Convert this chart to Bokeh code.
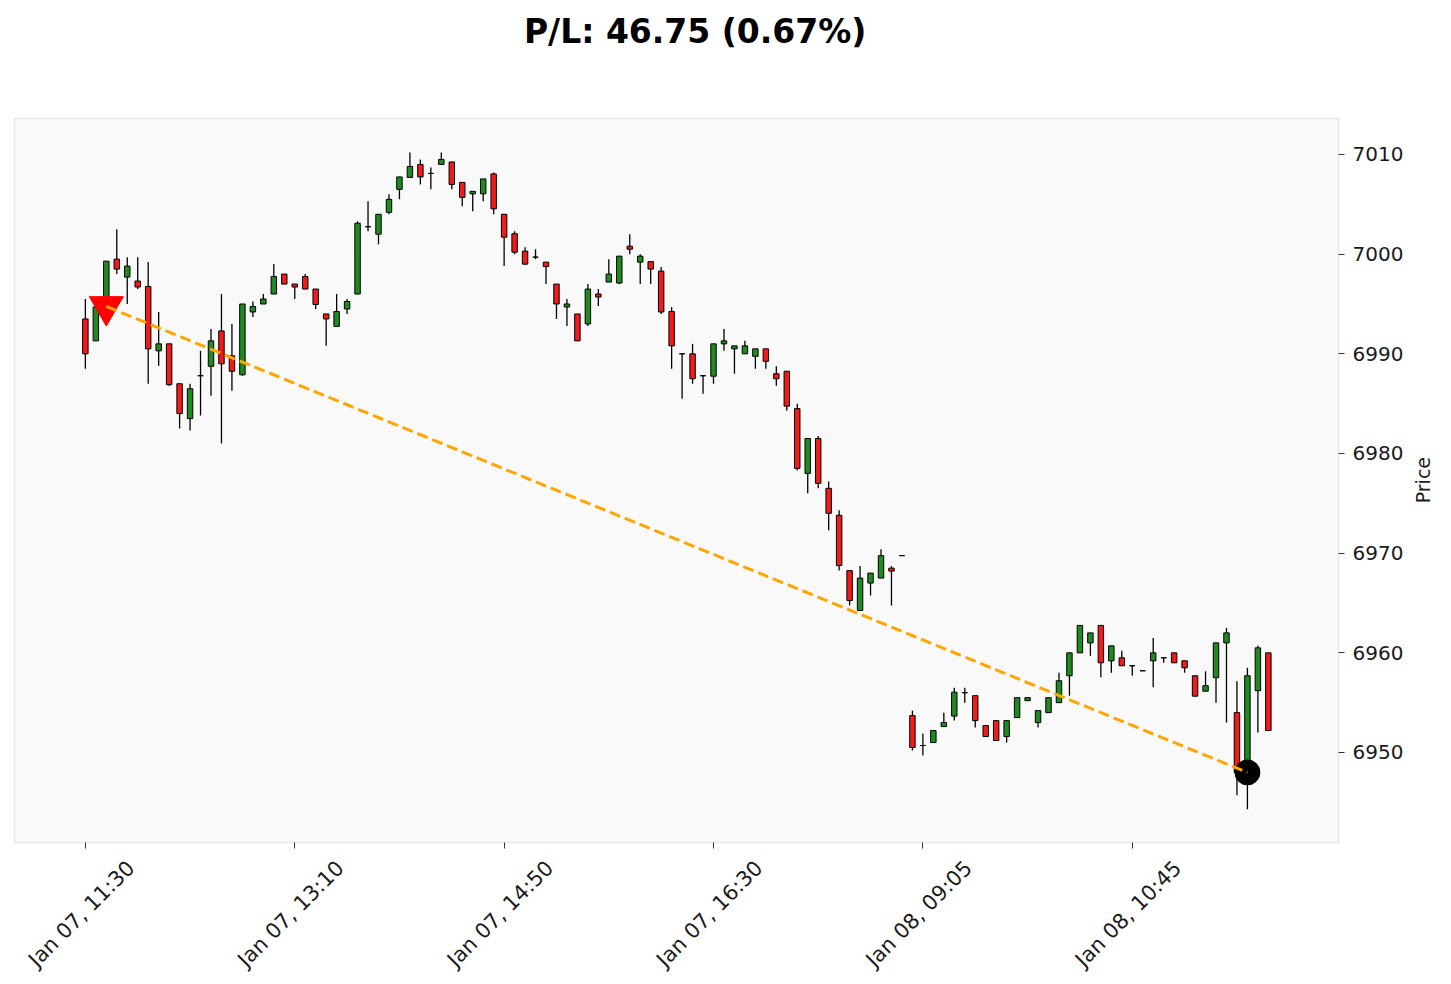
from math import pi
from bokeh.plotting import figure
from bokeh.models import ColumnDataSource, Range1d, LinearAxis, FixedTicker
from bokeh.embed import file_html
from bokeh.resources import INLINE

# ---------------- data ----------------
opens = [6993.5, 6991.3, 6994.7, 6999.5, 6997.7, 6997.3, 6996.75, 6990.3, 6991.0, 6987.0,
         6983.5, 6987.8, 6988.75, 6992.3, 6989.8, 6987.9, 6994.2, 6995.0, 6996.0, 6998.0,
         6997.0, 6997.75, 6996.5, 6994.0, 6992.75, 6994.5, 6996.0, 7002.75, 7002.0, 7004.2,
         7006.5, 7007.7, 7009.0, 7008.1, 7009.0, 7009.25, 7007.2, 7006.05, 7006.05, 7008.05,
         7004.0, 7002.05, 7000.3, 6999.7, 6999.2, 6997.0, 6994.7, 6994.0, 6993.0, 6996.0,
         6997.2, 6997.1, 7000.8, 6999.2, 6999.25, 6998.3, 6994.25, 6990.0, 6990.0, 6987.8,
         6987.75, 6991.0, 6990.5, 6990.0, 6989.75, 6990.5, 6988.0, 6988.25, 6984.5, 6978.0,
         6981.5, 6976.5, 6973.8, 6968.25, 6964.25, 6967.0, 6967.5, 6968.5, 6969.75, 6953.7,
         6950.7, 6951.0, 6952.6, 6953.65, 6956.0, 6955.7, 6952.7, 6953.2, 6951.6, 6953.5,
         6955.2, 6953.0, 6954.0, 6955.0, 6957.7, 6960.0, 6961.0, 6962.75, 6959.2, 6959.5,
         6958.7, 6958.2, 6959.2, 6959.5, 6960.0, 6959.2, 6957.7, 6956.15, 6957.5, 6961.0,
         6954.0, 6948.5, 6956.2, 6960.0]
highs = [6995.5, 6995.5, 6999.3, 7002.5, 6999.7, 6999.7, 6999.2, 6994.2, 6991.0, 6987.0,
         6987.0, 6990.3, 6992.5, 6996.0, 6993.0, 6995.0, 6995.25, 6996.0, 6999.0, 6998.0,
         6997.0, 6998.0, 6996.5, 6994.0, 6996.0, 6995.5, 7003.3, 7005.3, 7004.0, 7006.0,
         7007.75, 7010.2, 7009.5, 7008.7, 7010.2, 7009.25, 7007.2, 7006.3, 7007.55, 7008.2,
         7004.0, 7002.3, 7000.7, 7000.5, 6999.2, 6997.0, 6995.5, 6994.0, 6997.0, 6996.5,
         6999.5, 6999.8, 7002.0, 7000.0, 6999.25, 6998.7, 6994.7, 6990.0, 6991.0, 6987.8,
         6991.0, 6992.5, 6990.8, 6991.3, 6990.5, 6990.5, 6988.75, 6988.25, 6985.0, 6981.5,
         6981.75, 6977.2, 6974.3, 6968.25, 6968.7, 6968.0, 6970.4, 6968.7, 6969.75, 6954.2,
         6951.9, 6952.2, 6954.0, 6956.5, 6956.5, 6955.7, 6952.7, 6953.2, 6953.2, 6955.5,
         6955.5, 6954.2, 6955.5, 6958.0, 6960.0, 6962.75, 6962.0, 6962.75, 6960.7, 6960.2,
         6958.7, 6958.2, 6961.5, 6959.5, 6960.0, 6959.2, 6957.7, 6958.15, 6961.0, 6962.5,
         6957.15, 6958.5, 6960.7, 6960.0]
lows = [6988.5, 6991.3, 6994.5, 6998.0, 6995.0, 6996.5, 6987.0, 6988.8, 6986.8, 6982.5,
        6982.3, 6983.8, 6985.8, 6981.0, 6986.3, 6987.8, 6993.7, 6995.0, 6996.0, 6997.0,
        6995.5, 6996.5, 6994.5, 6990.8, 6992.75, 6994.0, 6996.0, 7002.3, 7001.0, 7004.0,
        7005.5, 7007.7, 7007.0, 7006.5, 7009.0, 7006.5, 7004.8, 7004.3, 7005.3, 7004.0,
        6998.8, 7000.0, 6998.9, 6999.5, 6997.0, 6993.5, 6992.8, 6991.3, 6992.8, 6994.8,
        6997.2, 6997.0, 7000.0, 6997.0, 6997.0, 6994.0, 6988.5, 6985.5, 6987.0, 6986.0,
        6987.0, 6990.3, 6988.0, 6990.0, 6988.5, 6988.5, 6986.8, 6984.3, 6978.3, 6976.0,
        6976.5, 6972.3, 6968.25, 6964.75, 6964.25, 6965.75, 6967.5, 6964.75, 6969.75, 6950.2,
        6949.7, 6951.0, 6952.6, 6953.2, 6955.0, 6952.5, 6951.6, 6951.2, 6951.0, 6953.5,
        6955.2, 6952.5, 6954.0, 6955.0, 6955.7, 6960.0, 6959.7, 6957.55, 6958.0, 6958.7,
        6957.7, 6958.2, 6956.55, 6959.0, 6959.0, 6958.0, 6955.65, 6956.15, 6955.0, 6953.0,
        6945.7, 6944.3, 6952.0, 6952.2]
closes = [6990.0, 6994.7, 6999.3, 6998.5, 6998.8, 6996.7, 6990.5, 6991.0, 6986.9, 6984.0,
          6986.5, 6987.8, 6991.3, 6989.0, 6988.25, 6995.0, 6994.75, 6995.5, 6997.75, 6997.0,
          6996.7, 6996.5, 6994.95, 6993.5, 6994.25, 6995.25, 7003.1, 7002.75, 7004.0, 7005.5,
          7007.75, 7008.8, 7007.75, 7008.1, 7009.5, 7007.0, 7005.7, 7006.3, 7007.55, 7004.55,
          7001.7, 7000.2, 6999.0, 6999.7, 6998.75, 6995.0, 6995.0, 6991.3, 6996.5, 6995.7,
          6998.0, 6999.8, 7000.5, 6999.8, 6998.5, 6994.2, 6990.8, 6990.0, 6987.5, 6987.8,
          6991.0, 6991.3, 6990.8, 6990.8, 6990.5, 6989.25, 6987.5, 6984.75, 6978.5, 6981.5,
          6977.0, 6974.0, 6968.75, 6965.25, 6967.5, 6968.0, 6969.75, 6968.2, 6969.75, 6950.5,
          6950.7, 6952.2, 6953.0, 6956.05, 6956.0, 6953.2, 6951.6, 6951.2, 6953.2, 6955.5,
          6955.5, 6954.2, 6955.5, 6957.2, 6960.0, 6962.75, 6962.0, 6959.0, 6960.7, 6958.7,
          6958.7, 6958.2, 6960.0, 6959.5, 6959.0, 6958.5, 6955.65, 6956.7, 6961.0, 6962.0,
          6948.0, 6957.7, 6960.5, 6952.2]

tick_positions = [0, 20, 40, 60, 80, 100]
tick_labels = ["Jan 07, 11:30", "Jan 07, 13:10", "Jan 07, 14:50",
               "Jan 07, 16:30", "Jan 08, 09:05", "Jan 08, 10:45"]
price_ticks = [6950, 6960, 6970, 6980, 6990, 7000, 7010]
y_axis_title = "Price"

entry_index = 2
entry_price = 6994.75
exit_index = 111
exit_price = 6948.0

# ---------------- derived ----------------
pnl = entry_price - exit_price          # short trade
pnl_pct = pnl / entry_price * 100
title_text = f"P/L: {pnl:.2f} ({pnl_pct:.2f}%)"

xs = list(range(len(opens)))
tops = [max(o, c) for o, c in zip(opens, closes)]
bottoms = [min(o, c) for o, c in zip(opens, closes)]
colors = ["#1f8a1f" if c >= o else "#f21b1b" for o, c in zip(opens, closes)]
src = ColumnDataSource(dict(x=xs, top=tops, bottom=bottoms, high=highs, low=lows, color=colors))

X0, X1 = -6.77, 119.7
Y0, Y1 = 6940.97, 7013.61
LABEL_SHIFT = 4.35
TITLE_SHIFT = 58.25

W, H = 1448, 983
BL, BR, BT, BB = 14, 108, 118, 141

p = figure(width=W, height=H, output_backend="svg", toolbar_location=None,
           x_range=Range1d(X0, X1), y_range=Range1d(Y0, Y1),
           y_axis_location="right", title_location=None,
           min_border_left=BL, min_border_right=BR, min_border_top=BT, min_border_bottom=BB)

p.background_fill_color = "#f9f9f9"
p.border_fill_color = "white"
p.outline_line_color = "#e8e8e8"
p.outline_line_width = 1.5
p.grid.visible = False

# default axes (grab them before any extra axis is added)
xa = p.below[0]
ya = p.right[0]

p.extra_x_ranges = {"lbl": Range1d(X0 - LABEL_SHIFT, X1 - LABEL_SHIFT),
                    "ttl": Range1d(X0 - TITLE_SHIFT, X1 - TITLE_SHIFT)}

# y axis (right)
ya.ticker = FixedTicker(ticks=price_ticks)
ya.axis_line_color = None
ya.major_tick_out = 6
ya.major_tick_in = 0
ya.major_tick_line_color = "#333333"
ya.minor_tick_line_color = None
ya.major_label_standoff = 8
ya.major_label_text_font = "DejaVu Sans"
ya.major_label_text_font_size = "20px"
ya.major_label_text_color = "#1a1a1a"

# x axis: tick marks only
xa.ticker = FixedTicker(ticks=tick_positions)
xa.axis_line_color = None
xa.major_tick_out = 6
xa.major_tick_in = 0
xa.major_tick_line_color = "#333333"
xa.minor_tick_line_color = None
xa.major_label_text_font_size = "1px"
xa.major_label_text_color = None
xa.major_label_standoff = 0

# title, drawn as the single label of an axis above the frame
title_axis = LinearAxis(x_range_name="ttl", ticker=FixedTicker(ticks=[0]),
                        major_label_overrides={0: title_text},
                        major_label_orientation="horizontal",
                        axis_line_color=None, major_tick_line_color=None,
                        minor_tick_line_color=None, major_tick_out=0, major_tick_in=0,
                        major_label_standoff=68,
                        major_label_text_font="DejaVu Sans",
                        major_label_text_font_size="33px",
                        major_label_text_font_style="bold",
                        major_label_text_color="black")
p.add_layout(title_axis, "above")

price_axis = LinearAxis(ticker=FixedTicker(ticks=[6975]),
                        major_label_overrides={6975: y_axis_title},
                        major_label_orientation=pi / 2,
                        axis_line_color=None, major_tick_line_color=None,
                        minor_tick_line_color=None, major_tick_out=0, major_tick_in=0,
                        major_label_standoff=17,
                        major_label_text_font="DejaVu Sans",
                        major_label_text_font_size="19px",
                        major_label_text_color="#1a1a1a")
p.add_layout(price_axis, "right")

# x axis: rotated labels, centred on the ticks like the reference
label_axis = LinearAxis(x_range_name="lbl", ticker=FixedTicker(ticks=tick_positions),
                        major_label_overrides=dict(zip(tick_positions, tick_labels)),
                        major_label_orientation=pi / 4,
                        axis_line_color=None, major_tick_line_color=None,
                        minor_tick_line_color=None, major_tick_out=0, major_tick_in=0,
                        major_label_standoff=16,
                        major_label_text_font="DejaVu Sans",
                        major_label_text_font_size="21px",
                        major_label_text_color="#1a1a1a")
p.add_layout(label_axis, "below")

# candles
p.segment(x0="x", y0="low", x1="x", y1="high", source=src, line_color="black", line_width=1.3)
p.vbar(x="x", width=0.52, top="top", bottom="bottom", source=src,
       fill_color="color", line_color="black", line_width=1)

# trade markers and connecting line
p.scatter([entry_index], [entry_price], marker="inverted_triangle", size=34,
          fill_color="red", line_color="red")
p.scatter([exit_index], [exit_price], marker="circle", size=25,
          fill_color="black", line_color="black")
p.line([entry_index, exit_index], [entry_price, exit_price], line_color="orange",
       line_width=3, line_dash="11 5")

open("out.html", "w").write(file_html(p, INLINE))
